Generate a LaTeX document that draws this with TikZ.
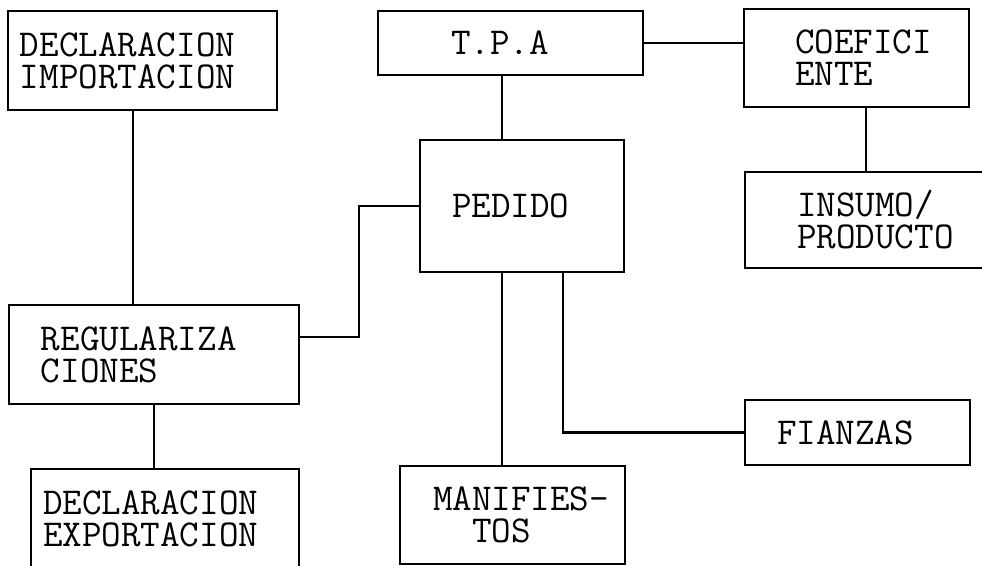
\documentclass[tikz,border=0pt]{standalone}
\usepackage{tikz}
\usetikzlibrary{positioning}

\begin{document}
\begin{tikzpicture}[x=1pt, y=-1pt, line width=2.4pt,
    blk/.style n args={4}{draw, anchor=north west, outer sep=0pt, inner sep=0pt,
        align=left, font=\ttfamily\fontsize{38}{32}\selectfont,
        minimum width=#1, text width=#1, minimum height=#2,
        execute at begin node={\leftskip=#3}, at={#4}},
    link/.style={draw, line width=2.4pt}
]
    \useasboundingbox (0,0) rectangle (982,565);

    % Boxes
    \node[blk={269pt}{99pt}{12pt}{(8,11)}] (dimp) {DECLARACION\\IMPORTACION};
    \node[blk={265pt}{64pt}{73pt}{(378,11)}] (tpa) {T.P.A};
    \node[blk={225pt}{98pt}{51pt}{(744,9)}] (coef) {COEFICI\\ENTE};
    \node[blk={204pt}{132pt}{32pt}{(420,140)}] (ped) {PEDIDO};
    \node[blk={260pt}{96pt}{52pt}{(745,172)}] (ins) {INSUMO/\\PRODUCTO};
    \node[blk={290pt}{99pt}{32pt}{(9,305)}] (reg) {REGULARIZA\\CIONES};
    \node[blk={225pt}{65pt}{32pt}{(745,400)}] (fin) {FIANZAS};
    \node[blk={268pt}{100pt}{12pt}{(31,469)}] (dexp) {DECLARACION\\EXPORTACION};
    \node[blk={225pt}{98pt}{33pt}{(400,466)}] (man) {MANIFIES-\\\hphantom{MA}TOS};

    % Links
    \draw[link] (tpa.east) -- (tpa.east -| coef.west);
    \draw[link] ([xshift=-8.5pt]tpa.south) -- ([xshift=-8.5pt]tpa.south |- ped.north);
    \draw[link] ([xshift=9.5pt]coef.south) -- ([xshift=9.5pt]coef.south |- ins.north);
    \draw[link] ([xshift=-9.5pt]dimp.south) -- ([xshift=-9.5pt]dimp.south |- reg.north);
    \draw[link] (ped.west) -- ++(-61pt,0) |- ([yshift=17.5pt]reg.east);
    \draw[link] (reg.south) -- (reg.south |- dexp.north);
    \draw[link] ([xshift=-20pt]ped.south) -- ([xshift=-20pt]ped.south |- man.north);
    \draw[link] ([xshift=41pt]ped.south) |- (fin.west);

\end{tikzpicture}
\end{document}
